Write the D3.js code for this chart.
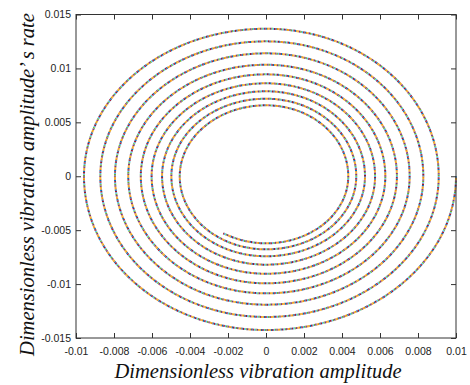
<!DOCTYPE html>
<html><head><meta charset="utf-8">
<script src="https://cdn.jsdelivr.net/npm/d3@7"></script>
<style>body{margin:0;background:#fff}</style>
</head><body><svg id="c" width="470" height="385"></svg>
<script>
// Tick values and labels
const xTicks = [-0.01,-0.008,-0.006,-0.004,-0.002,0,0.002,0.004,0.006,0.008,0.01];
const xTickLabels = ["-0.01","-0.008","-0.006","-0.004","-0.002","0","0.002","0.004","0.006","0.008","0.01"];
const yTicks = [-0.015,-0.01,-0.005,0,0.005,0.01,0.015];
const yTickLabels = ["-0.015","-0.01","-0.005","0","0.005","0.01","0.015"];
// Spiral (phase trajectory): successive axis crossings, then the end point
const spiralX = [0.0100,
  0,-0.00958,0,0.00909, 0,-0.00872,0,0.00828, 0,-0.00795,0,0.00756,
  0,-0.00725,0,0.00689, 0,-0.00659,0,0.00628, 0,-0.00602,0,0.00574,
  0,-0.00547,0,0.00521, 0,-0.00498,0,0.00475, 0,-0.00454,0,0.00433,
  0,-0.00225];
const spiralY = [0,
  -0.01426,0,0.01368,0, -0.01305,0,0.01251,0, -0.01191,0,0.01140,0,
  -0.01086,0,0.01034,0, -0.00993,0,0.00945,0, -0.00904,0,0.00862,0,
  -0.00820,0,0.00788,0, -0.00742,0,0.00719,0, -0.00678,0,0.00658,0,
  -0.00622,-0.00529];
const markerColors = ["#0072BD","#F08A1E","#EDB120","#7E2F8E","#77AC30","#4DBEEE","#A2142F"];

const svg = d3.select("#c");
svg.append("rect").attr("width",470).attr("height",385).attr("fill","#fff");
const L=76, R=456, T=14.5, B=338;
const x = d3.scaleLinear().domain([-0.01,0.01]).range([L,R]);
const y = d3.scaleLinear().domain([-0.015,0.015]).range([B,T]);
const axisColor="#333";

svg.append("clipPath").attr("id","clip").append("rect")
  .attr("x",L).attr("y",T).attr("width",R-L+1).attr("height",B-T);

// Path through the crossings: each step is an elliptic quarter arc
// (tangent perpendicular to the axis on which the crossing lies).
const K = 0.5523;
function spiralPath(){
  const p = d3.path();
  const n = spiralX.length;
  p.moveTo(x(spiralX[0]), y(spiralY[0]));
  for (let i=1;i<n;i++){
    const px=spiralX[i-1], py=spiralY[i-1], qx=spiralX[i], qy=spiralY[i];
    const pOnX = py===0, qOnX = qy===0, qOnY = qx===0;
    if (qOnX || qOnY){
      const c1 = pOnX ? [px, py + K*(qy-py)] : [px + K*(qx-px), py];
      const c2 = qOnX ? [qx, qy + K*(py-qy)] : [qx + K*(px-qx), qy];
      p.bezierCurveTo(x(c1[0]),y(c1[1]),x(c2[0]),y(c2[1]),x(qx),y(qy));
    } else {
      const c = pOnX ? [px, py + 0.5*(qy-py)] : [px + 0.5*(qx-px), py];
      p.quadraticCurveTo(x(c[0]),y(c[1]),x(qx),y(qy));
    }
  }
  return p.toString();
}
const dstr = spiralPath();
const dl = 1.4, nc = markerColors.length;
const g = svg.append("g").attr("clip-path","url(#clip)");
markerColors.forEach((c,i)=>{
  g.append("path").attr("d",dstr).attr("fill","none")
   .attr("stroke",c).attr("stroke-width",2)
   .attr("stroke-dasharray",`${dl} ${dl*(nc-1)}`)
   .attr("stroke-dashoffset",-i*dl);
});

// frame
svg.append("rect").attr("x",L).attr("y",T).attr("width",R-L).attr("height",B-T)
  .attr("fill","none").attr("stroke",axisColor).attr("stroke-width",1);

function styleAxis(sel){
  sel.select(".domain").remove();
  sel.selectAll("line").attr("stroke",axisColor);
  sel.selectAll("text").attr("fill","#222").style("font-family","'Liberation Sans',Arial,sans-serif").style("font-size","10.5px");
}
const xb = svg.append("g").attr("transform",`translate(0,${B})`)
  .call(d3.axisBottom(x).tickValues(xTicks).tickFormat((d,i)=>xTickLabels[i]).tickSizeInner(-5).tickSizeOuter(0).tickPadding(10));
styleAxis(xb);
const xt = svg.append("g").attr("transform",`translate(0,${T})`)
  .call(d3.axisTop(x).tickValues(xTicks).tickFormat("").tickSizeInner(-5).tickSizeOuter(0));
styleAxis(xt);
const yl = svg.append("g").attr("transform",`translate(${L},0)`)
  .call(d3.axisLeft(y).tickValues(yTicks).tickFormat((d,i)=>yTickLabels[i]).tickSizeInner(-5).tickSizeOuter(0).tickPadding(5));
styleAxis(yl);
const yr = svg.append("g").attr("transform",`translate(${R},0)`)
  .call(d3.axisRight(y).tickValues(yTicks).tickFormat("").tickSizeInner(-5).tickSizeOuter(0));
styleAxis(yr);

svg.append("text").attr("x",258).attr("y",378).attr("text-anchor","middle")
  .style("font-family","'Liberation Serif','Times New Roman',serif").style("font-style","italic").style("font-size","20.5px")
  .attr("fill","#111").text("Dimensionless vibration amplitude");
svg.append("text").attr("transform","translate(34,184.5) rotate(-90)").attr("text-anchor","middle")
  .style("font-family","'Liberation Serif','Times New Roman',serif").style("font-style","italic").style("font-size","20.5px")
  .attr("fill","#111").text("Dimensionless vibration amplitude’ s rate");
</script></body></html>
